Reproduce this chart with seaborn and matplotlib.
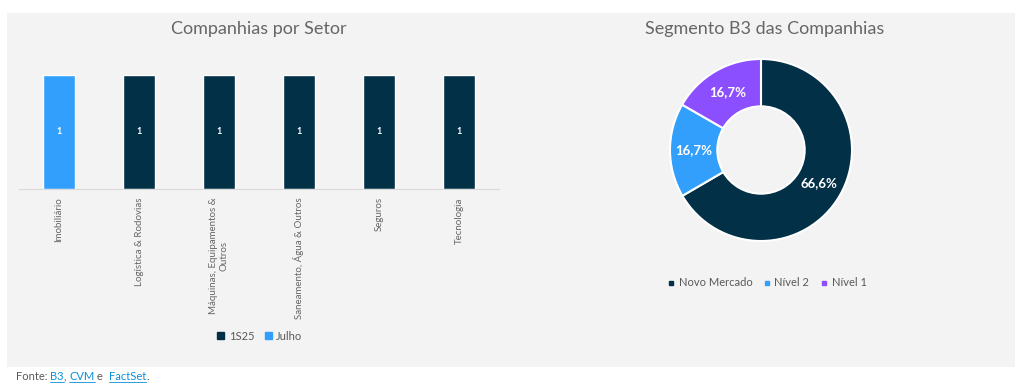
import seaborn as sns
import pandas as pd
import matplotlib.pyplot as plt
from matplotlib.patches import Rectangle, Patch
from matplotlib.lines import Line2D

# data
setores = ["Imobiliário", "Logística & Rodovias", "Máquinas, Equipamentos &\nOutros",
           "Saneamento, Água & Outros", "Seguros", "Tecnologia"]
periodo = ["Julho", "1S25", "1S25", "1S25", "1S25", "1S25"]
companhias = [1, 1, 1, 1, 1, 1]

segmentos = ["Novo Mercado", "Nível 2", "Nível 1"]
seg_pct = [66.6, 16.7, 16.7]
seg_labels = ["66,6%", "16,7%", "16,7%"]

DARK = "#023047"
BLUE = "#339ffc"
PURPLE = "#8c4fff"
GRAY = "#595959"
BG = "#f3f3f3"

sns.set_style("white")
plt.rcParams["font.family"] = ["Lato", "DejaVu Sans"]

W, H = 1024, 385
fig = plt.figure(figsize=(W / 100, H / 100), dpi=100)
fig.patch.set_facecolor("white")
fig.add_artist(Rectangle((7 / W, 1 - 367 / H), 1008 / W, 354 / H, transform=fig.transFigure,
                         facecolor=BG, edgecolor="none", zorder=-10))

# ---- bar chart
ax = fig.add_axes([19 / W, 1 - 189 / H, 480 / W, 140 / H])
ax.set_facecolor("none")
df = pd.DataFrame({"setor": setores, "periodo": periodo, "n": companhias})
sns.barplot(data=df, x="setor", y="n", hue="periodo", hue_order=["1S25", "Julho"],
            palette={"1S25": DARK, "Julho": BLUE}, dodge=False, width=0.4,
            saturation=1, legend=False, ax=ax)
for c in ax.containers:
    ax.bar_label(c, label_type="center", color="white", fontsize=6.5, fontweight="bold")
ax.set_ylim(0, 140 / 114)
ax.set_xlim(-0.5, len(setores) - 0.5)
ax.set_yticks([])
ax.set_xlabel("")
ax.set_ylabel("")
for s in ["top", "left", "right"]:
    ax.spines[s].set_visible(False)
ax.spines["bottom"].set_color("#d9d9d9")
ax.tick_params(axis="x", length=0, pad=6)
ax.set_xticks(range(len(setores)))
ax.set_xticklabels(setores, rotation=90, fontsize=7, color="#666666", ha="center", va="top",
                   multialignment="center")
fig.text(259 / W, 1 - 29 / H, "Companhias por Setor", ha="center", va="center",
         fontsize=13, color="#666666")
fig.legend(handles=[Patch(color=DARK, label="1S25"), Patch(color=BLUE, label="Julho")],
           loc="center", bbox_to_anchor=(260 / W, 1 - 336 / H), ncol=2, frameon=False,
           fontsize=8, handlelength=0.6, handleheight=0.6, handletextpad=0.4,
           columnspacing=1.0, labelcolor=GRAY)

# ---- donut
ax2 = fig.add_axes([670 / W, 1 - 241 / H, 182 / W, 182 / H])
wedges, _, autotexts = ax2.pie(seg_pct, colors=[DARK, BLUE, PURPLE], startangle=90,
                               counterclock=False, autopct="%1.1f", pctdistance=0.74,
                               wedgeprops=dict(width=0.52, edgecolor="white", linewidth=1.5))
for t, lab in zip(autotexts, seg_labels):
    t.set_text(lab)
    t.set_color("white")
    t.set_fontsize(9.5)
    t.set_fontweight("bold")
ax2.set_xlim(-1, 1)
ax2.set_ylim(-1, 1)
ax2.set_aspect("equal")
fig.text(765 / W, 1 - 29 / H, "Segmento B3 das Companhias", ha="center", va="center",
         fontsize=13, color="#666666")
fig.legend(handles=[Line2D([], [], marker="s", ls="", color=c, markersize=3.5, label=l)
                    for c, l in zip([DARK, BLUE, PURPLE], segmentos)],
           loc="center", bbox_to_anchor=(767 / W, 1 - 283 / H), ncol=3, frameon=False,
           fontsize=8, handlelength=0.6, handletextpad=0.4, columnspacing=1.0,
           labelcolor=GRAY)

# ---- fonte
renderer = fig.canvas.get_renderer()
x = 16 / W
y = 1 - 377 / H
for txt, link in [("Fonte: ", False), ("B3", True), (", ", False), ("CVM", True),
                  (" e  ", False), ("FactSet", True), (".", False)]:
    t = fig.text(x, y, txt, fontsize=8, color="#0b8fd9" if link else GRAY,
                 ha="left", va="center")
    bb = t.get_window_extent(renderer).transformed(fig.transFigure.inverted())
    if link:
        fig.add_artist(Line2D([bb.x0, bb.x1], [bb.y0 + 0.002, bb.y0 + 0.002],
                              transform=fig.transFigure, color="#0b8fd9", lw=0.6))
    x = bb.x1

fig.savefig("out.png", dpi=100)
